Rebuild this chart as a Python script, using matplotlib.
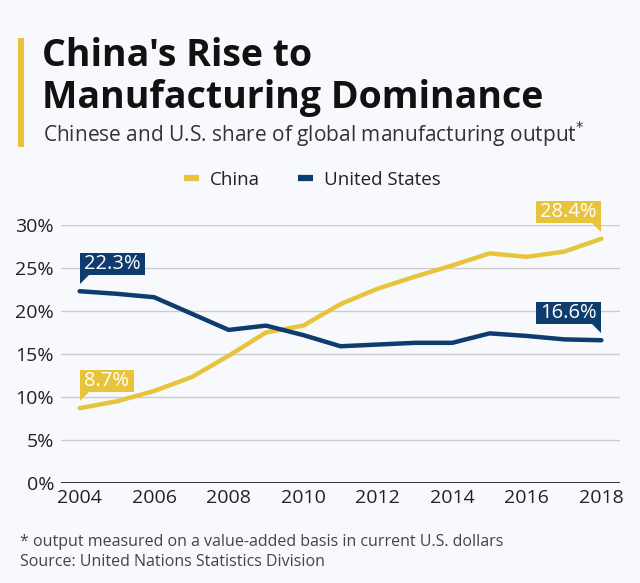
import matplotlib.pyplot as plt
from matplotlib.patches import Polygon, Rectangle
from matplotlib.transforms import ScaledTranslation

plt.rcParams['font.family'] = ['Open Sans', 'DejaVu Sans']

YEARS = list(range(2004, 2019))
CHINA = [8.7, 9.5, 10.7, 12.3, 14.8, 17.5, 18.3, 20.8, 22.6, 24.0, 25.3, 26.7, 26.3, 26.9, 28.4]
US = [22.3, 22.0, 21.6, 19.7, 17.8, 18.3, 17.2, 15.9, 16.1, 16.3, 16.3, 17.4, 17.1, 16.7, 16.6]
SERIES_NAMES = ['China', 'United States']
Y_TICKS = [0, 5, 10, 15, 20, 25, 30]
X_TICKS = list(range(2004, 2019, 2))

YELLOW = '#e8c43c'
NAVY = '#0e3c6e'
BG = '#f7f9fc'
DPI = 100

fig = plt.figure(figsize=(6.4, 5.83), dpi=DPI, facecolor=BG)
ax = fig.add_axes([61 / 640, 1 - 483 / 583, 559 / 640, 258 / 583], facecolor=BG)

ax.plot(YEARS, CHINA, color=YELLOW, lw=3.2, solid_capstyle='round', label=SERIES_NAMES[0], zorder=3)
ax.plot(YEARS, US, color=NAVY, lw=3.2, solid_capstyle='round', label=SERIES_NAMES[1], zorder=3)

ax.set_xlim(2003.5, 2018.5)
ax.set_ylim(0, 30)
ax.set_yticks(Y_TICKS)
ax.set_yticklabels([f'{v}%' for v in Y_TICKS])
ax.set_xticks(X_TICKS)
ax.tick_params(length=0, labelsize=14, colors='#222222')
ax.tick_params(axis='y', pad=5)
ax.tick_params(axis='x', pad=4)
for v in Y_TICKS[1:]:
    ax.axhline(v, color='#cccccc', lw=1, zorder=1)
ax.axhline(0, color='#333333', lw=1.4, zorder=2)
for s in ax.spines.values():
    s.set_visible(False)


def callout(x, y, text, color, side):
    # box + tail, sizes in pixels relative to the data point
    t = ax.text(0, 0, text, fontsize=14.5, color='white')
    fig.canvas.draw()
    w = t.get_window_extent().width + 9
    t.remove()
    h, gap, tip, tail = 22, 16, 7, 9
    base = fig.dpi_scale_trans + ScaledTranslation(x, y, ax.transData)
    if side == 'left':
        x0 = 0
        tri = [(0, tip), (0, gap), (tail, gap)]
    else:
        x0 = -w
        tri = [(0, tip), (0, gap), (-tail, gap)]
    inch = lambda pts: [(px / DPI, py / DPI) for px, py in pts]
    ax.add_patch(Rectangle((x0 / DPI, gap / DPI), w / DPI, h / DPI, transform=base,
                           fc=color, ec='none', clip_on=False, zorder=4))
    ax.add_patch(Polygon(inch(tri), closed=True, transform=base,
                         fc=color, ec='none', clip_on=False, zorder=4))
    ax.text((x0 + w / 2) / DPI, (gap + h / 2) / DPI, text, transform=base, fontsize=14.5,
            color='white', ha='center', va='center', zorder=5)


callout(YEARS[0], US[0], f'{US[0]}%', NAVY, 'left')
callout(YEARS[0], CHINA[0], f'{CHINA[0]}%', YELLOW, 'left')
callout(YEARS[-1], CHINA[-1], f'{CHINA[-1]}%', YELLOW, 'right')
callout(YEARS[-1], US[-1], f'{US[-1]}%', NAVY, 'right')

leg = ax.legend(loc='center', bbox_to_anchor=(0.488, 1 - 180 / 583), bbox_transform=fig.transFigure,
                ncol=2, frameon=False, fontsize=13.5, handlelength=0.8, handletextpad=0.6,
                columnspacing=2.0)
for line in leg.get_lines():
    line.set_linewidth(4.5)
    line.set_solid_capstyle('butt')
for txt in leg.get_texts():
    txt.set_color('#222222')

# header
fig.add_artist(Rectangle((18 / 640, 1 - 147 / 583), 6 / 640, 109 / 583,
                         transform=fig.transFigure, fc=YELLOW, ec='none'))
fig.text(42 / 640, 1 - 66 / 583, "China's Rise to", fontsize=27, fontweight='bold',
         color='#111111', va='baseline')
fig.text(42 / 640, 1 - 108 / 583, 'Manufacturing Dominance', fontsize=27, fontweight='bold',
         color='#111111', va='baseline')
fig.text(43 / 640, 1 - 142 / 583, 'Chinese and U.S. share of global manufacturing output$^{*}$',
         fontsize=15, color='#333333', va='baseline')

fig.text(20 / 640, 1 - 546 / 583, '* output measured on a value-added basis in current U.S. dollars',
         fontsize=11.5, color='#444444', va='baseline')
fig.text(20 / 640, 1 - 566 / 583, 'Source: United Nations Statistics Division',
         fontsize=11.5, color='#444444', va='baseline')

fig.savefig('out.png', dpi=DPI, facecolor=BG)
